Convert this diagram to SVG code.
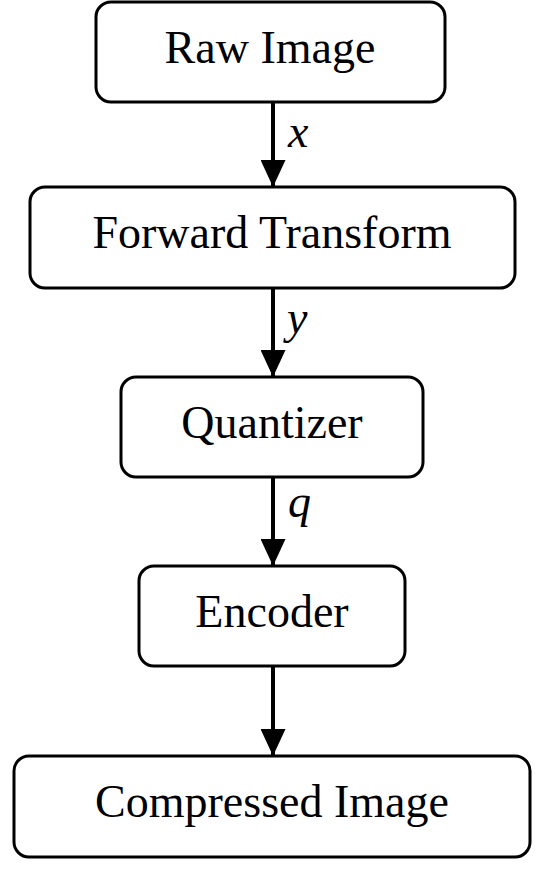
<svg xmlns="http://www.w3.org/2000/svg" width="549" height="869" viewBox="0 0 549 869">
<style>
.box{fill:#fff;stroke:#000;stroke-width:3}
.t{font-family:"Liberation Serif","Times New Roman",serif;font-size:46px;text-anchor:middle;fill:#000}
.v{font-family:"Liberation Serif","Times New Roman",serif;font-size:46px;font-style:italic;fill:#000}
.c{stroke:#000;stroke-width:4;fill:none}
</style>
<defs>
<marker id="ah" markerUnits="userSpaceOnUse" markerWidth="27" markerHeight="25" refX="27" refY="12.5" orient="auto">
<path d="M0,0 L27,12.5 L0,25 Z" fill="#000"/>
</marker>
</defs>
<rect width="549" height="869" fill="#fff"/>
<g id="connectors">
<line class="c" x1="273" y1="102" x2="273" y2="187" marker-end="url(#ah)"/>
<line class="c" x1="273" y1="288" x2="273" y2="377" marker-end="url(#ah)"/>
<line class="c" x1="273" y1="477" x2="273" y2="566" marker-end="url(#ah)"/>
<line class="c" x1="273" y1="666" x2="273" y2="756" marker-end="url(#ah)"/>
<text class="v" x="288" y="147">x</text>
<text class="v" x="287" y="333">y</text>
<text class="v" x="288" y="517">q</text>
</g>
<g id="raw"><rect class="box" x="96" y="2" width="349" height="100" rx="15"/><text class="t" x="270" y="63">Raw Image</text></g>
<g id="fwd"><rect class="box" x="30" y="187" width="485" height="101" rx="15"/><text class="t" x="272" y="248">Forward Transform</text></g>
<g id="quant"><rect class="box" x="121" y="377" width="302" height="100" rx="15"/><text class="t" x="272" y="438">Quantizer</text></g>
<g id="enc"><rect class="box" x="139" y="566" width="266" height="100" rx="15"/><text class="t" x="272" y="627">Encoder</text></g>
<g id="comp"><rect class="box" x="14" y="756" width="516" height="101" rx="15"/><text class="t" x="272" y="817">Compressed Image</text></g>
</svg>
